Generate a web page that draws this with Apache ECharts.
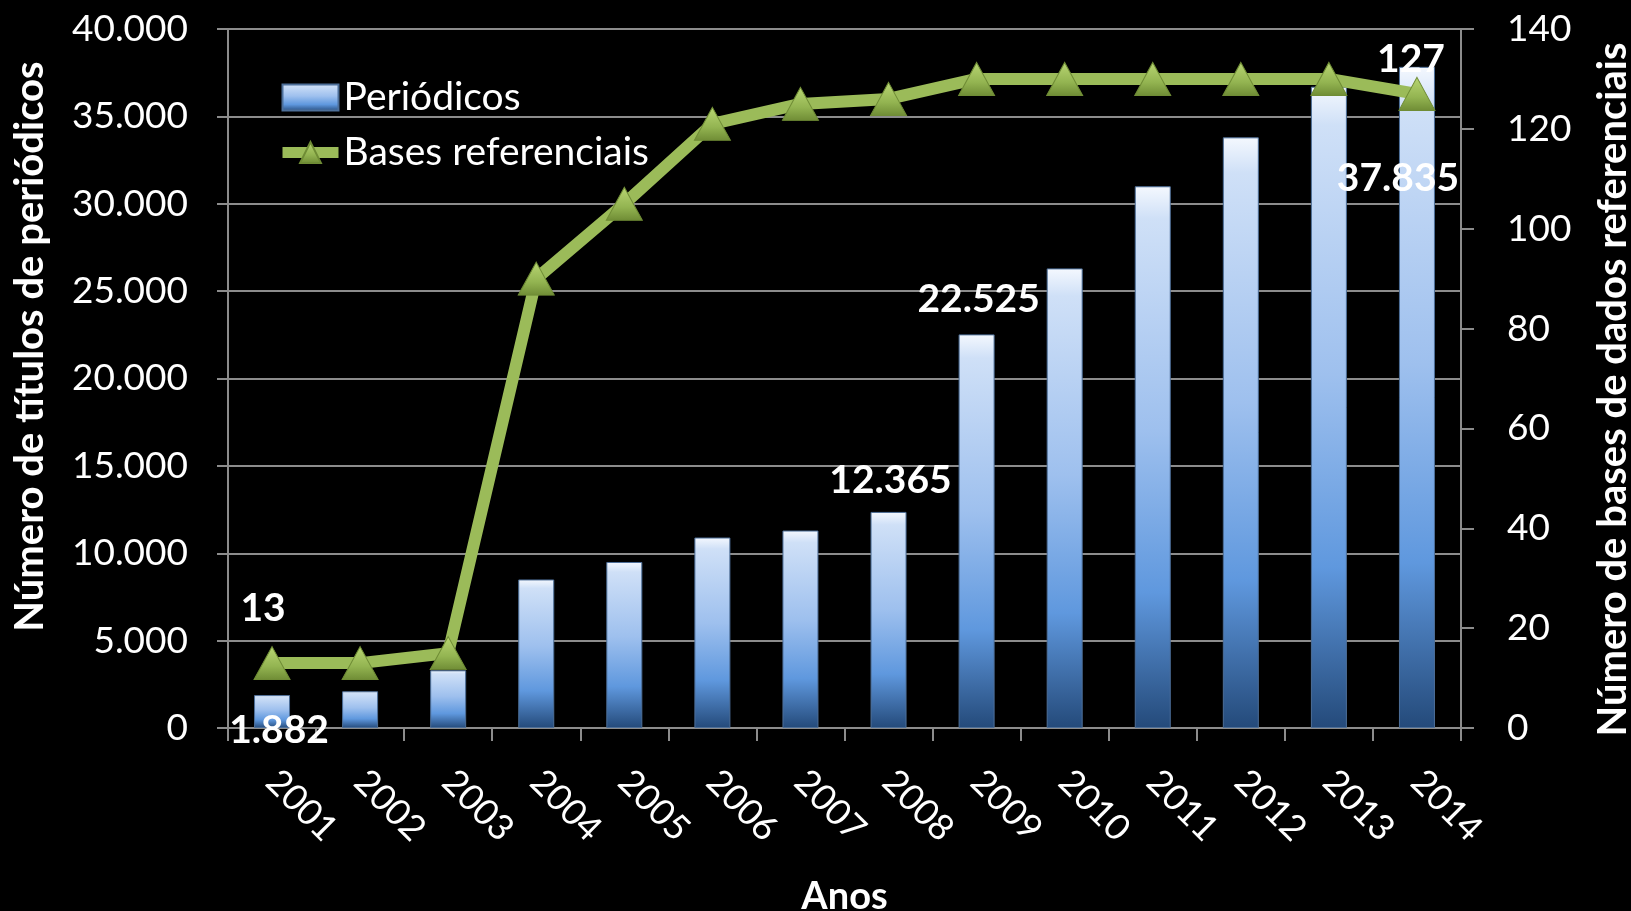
<!DOCTYPE html>
<html>
<head>
<meta charset="utf-8">
<script src="https://cdn.jsdelivr.net/npm/echarts@6/dist/echarts.min.js"></script>
<style>
html,body{margin:0;padding:0;background:#000;}
#chart{width:1631px;height:911px;}
</style>
</head>
<body>
<div id="chart"></div>
<script>
// ---- data ----
var categories = ['2001','2002','2003','2004','2005','2006','2007','2008','2009','2010','2011','2012','2013','2014'];
var periodicos = [1882, 2100, 3300, 8500, 9500, 10900, 11300, 12365, 22525, 26300, 31000, 33800, 36700, 37835];
var bases = [13, 13, 15, 90, 105, 121, 125, 126, 130, 130, 130, 130, 130, 127];
var seriesNames = ['Periódicos', 'Bases referenciais'];
var labeledBarIdx = [0, 7, 8, 13];
var labeledLineIdx = [0, 13];
var leftAxisTitle = 'Número de títulos de periódicos';
var rightAxisTitle = 'Número de bases de dados referenciais';
var xAxisTitle = 'Anos';

function fmt(v) {
  return String(v).replace(/\B(?=(\d{3})+(?!\d))/g, '.');
}

var FONT = 'Lato, "Open Sans", "Liberation Sans", sans-serif';
var barGradient = new echarts.graphic.LinearGradient(0, 0, 0, 1, [
  {offset: 0, color: '#f4f8fe'},
  {offset: 0.06, color: '#cfe0f7'},
  {offset: 0.45, color: '#9ec0ee'},
  {offset: 0.75, color: '#5f98de'},
  {offset: 1, color: '#244a7a'}
]);
var triGradient = new echarts.graphic.LinearGradient(0, 0, 0, 1, [
  {offset: 0, color: '#b9d673'},
  {offset: 0.6, color: '#93b451'},
  {offset: 1, color: '#6f8c35'}
]);

var labelBase = {show: true, color: '#fff', fontFamily: FONT, fontWeight: 'bold', fontSize: 39,
  formatter: function (p) { return fmt(p.value); }};

var barLabelCfg = {
  0: {position: 'insideBottom', distance: 0, offset: [7, 22]},
  7: {position: 'top', distance: 12, offset: [2, 0]},
  8: {position: 'top', distance: 15, offset: [2, 0]},
  13: {position: 'insideTop', distance: 0, offset: [-19, 92]}
};
var barData = periodicos.map(function (v, i) {
  var d = {value: v};
  if (labeledBarIdx.indexOf(i) >= 0) {
    d.label = Object.assign({}, labelBase, barLabelCfg[i]);
  }
  return d;
});
var lineLabelCfg = {
  0: {position: 'top', distance: 18, offset: [-9, 0]},
  13: {position: 'top', distance: 6, offset: [-6, 8]}
};
var lineData = bases.map(function (v, i) {
  var d = {value: v};
  if (labeledLineIdx.indexOf(i) >= 0) {
    d.label = Object.assign({}, labelBase, lineLabelCfg[i]);
  }
  return d;
});

var chart = echarts.init(document.getElementById('chart'));
chart.setOption({
  backgroundColor: '#000',
  animation: false,
  grid: {left: 228, right: 170, top: 29, bottom: 183, outerBoundsMode: 'none', containLabel: false},
  legend: {
    orient: 'vertical', left: 272, top: 73, itemGap: 16, itemWidth: 56, itemHeight: 26,
    textStyle: {color: '#fff', fontFamily: FONT, fontSize: 39, lineHeight: 37},
    data: [
      {name: seriesNames[0], icon: 'rect'},
      {name: seriesNames[1], lineStyle: {width: 11, color: '#9bbb59'}}
    ]
  },
  xAxis: {
    type: 'category', data: categories,
    name: xAxisTitle, nameLocation: 'middle', nameGap: 150,
    nameTextStyle: {color: '#fff', fontFamily: FONT, fontWeight: 'bold', fontSize: 38},
    axisLine: {lineStyle: {color: '#8c8c8c', width: 2}},
    axisTick: {show: true, length: 13, lineStyle: {color: '#8c8c8c', width: 2}},
    axisLabel: {rotate: -45, color: '#fff', fontFamily: FONT, fontSize: 36, margin: 48, interval: 0}
  },
  yAxis: [
    {
      type: 'value', min: 0, max: 40000, interval: 5000, position: 'left',
      name: leftAxisTitle, nameLocation: 'middle', nameGap: 178, nameRotate: 90,
      nameTextStyle: {color: '#fff', fontFamily: FONT, fontWeight: 'bold', fontSize: 40, padding: [0, 0, 0, 64]},
      axisLine: {show: true, lineStyle: {color: '#8c8c8c', width: 2}},
      axisTick: {show: true, length: 11, lineStyle: {color: '#8c8c8c', width: 2}},
      axisLabel: {color: '#fff', fontFamily: FONT, fontSize: 37, margin: 40, formatter: function (v) { return fmt(v); }},
      splitLine: {show: true, lineStyle: {color: '#8c8c8c', width: 2}}
    },
    {
      type: 'value', min: 0, max: 140, interval: 20, position: 'right',
      name: rightAxisTitle, nameLocation: 'middle', nameGap: 132, nameRotate: 90,
      nameTextStyle: {color: '#fff', fontFamily: FONT, fontWeight: 'bold', fontSize: 40, padding: [0, 22, 0, 0]},
      axisLine: {show: true, lineStyle: {color: '#8c8c8c', width: 2}},
      axisTick: {show: true, length: 13, lineStyle: {color: '#8c8c8c', width: 2}},
      axisLabel: {color: '#fff', fontFamily: FONT, fontSize: 37, margin: 46},
      splitLine: {show: false}
    }
  ],
  series: [
    {
      name: seriesNames[0], type: 'bar', yAxisIndex: 0, data: barData, barWidth: 36,
      itemStyle: {color: barGradient, borderColor: '#4d6f99', borderWidth: 1}
    },
    {
      name: seriesNames[1], type: 'line', yAxisIndex: 1, data: lineData,
      symbol: 'triangle', symbolSize: [36, 33], showAllSymbol: true,
      lineStyle: {color: '#9bbb59', width: 12},
      itemStyle: {color: triGradient, borderColor: '#6f8c35', borderWidth: 1},
      z: 5
    }
  ]
});
</script>
</body>
</html>
